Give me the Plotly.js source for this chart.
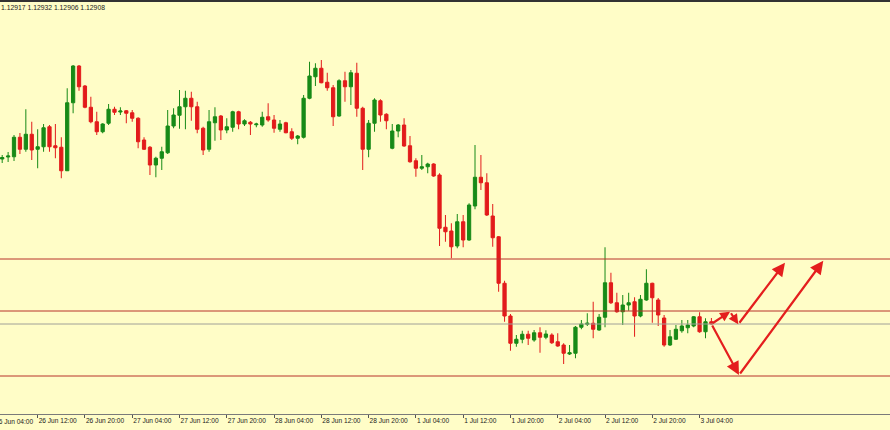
<!DOCTYPE html>
<html>
<head>
<meta charset="utf-8">
<script src="https://cdn.plot.ly/plotly-3.0.1.min.js"></script>
<style>
html,body{margin:0;padding:0;background:#fffdc7;}
#chart{width:890px;height:430px;}
</style>
</head>
<body>
<div id="chart"></div>
<script>
// EURUSD H1, bars from 26 Jun 06:00 to 3 Jul 06:00
const headerText = "1.12917 1.12932 1.12906 1.12908";

const open = [1.13568,1.13576,1.13577,1.13655,1.13607,1.13667,1.13607,1.13617,1.13697,1.13621,
1.13615,1.13521,1.13793,1.13940,1.13860,1.13775,1.13717,1.13677,1.13711,1.13767,
1.13756,1.13761,1.13753,1.13731,1.13644,1.13615,1.13544,1.13571,1.13593,1.13700,
1.13743,1.13777,1.13811,1.13777,1.13691,1.13607,1.13713,1.13740,1.13684,1.13695,
1.13757,1.13708,1.13715,1.13705,1.13704,1.13737,1.13724,1.13687,1.13713,1.13677,
1.13651,1.13655,1.13811,1.13897,1.13931,1.13875,1.13853,1.13740,1.13881,1.13857,
1.13911,1.13771,1.13607,1.13711,1.13801,1.13747,1.13611,1.13680,1.13704,1.13621,
1.13561,1.13531,1.13537,1.13548,1.13504,1.13295,1.13280,1.13220,1.13317,1.13244,
1.13380,1.13495,1.13473,1.13340,1.13257,1.13071,1.12940,1.12831,1.12847,1.12867,
1.12844,1.12873,1.12855,1.12864,1.12837,1.12824,1.12788,1.12791,1.12895,1.12907,
1.12911,1.12884,1.12935,1.13073,1.12993,1.12957,1.12984,1.12997,1.12940,1.13004,
1.13071,1.13004,1.12932,1.12824,1.12847,1.12881,1.12893,1.12900,1.12937,1.12877,
1.12917];

const high = [1.13584,1.13596,1.13664,1.13672,1.13767,1.13717,1.13687,1.13708,1.13704,1.13708,
1.13655,1.13851,1.13944,1.13944,1.13864,1.13817,1.13757,1.13711,1.13788,1.13777,
1.13775,1.13764,1.13764,1.13735,1.13655,1.13620,1.13577,1.13617,1.13764,1.13771,
1.13844,1.13841,1.13837,1.13797,1.13697,1.13764,1.13775,1.13744,1.13731,1.13761,
1.13761,1.13727,1.13720,1.13713,1.13757,1.13791,1.13744,1.13724,1.13717,1.13691,
1.13664,1.13824,1.13957,1.13951,1.13964,1.13913,1.13864,1.13887,1.13917,1.13924,
1.13953,1.13777,1.13724,1.13811,1.13807,1.13751,1.13708,1.13708,1.13731,1.13660,
1.13571,1.13584,1.13553,1.13551,1.13511,1.13344,1.13311,1.13348,1.13344,1.13391,
1.13624,1.13584,1.13511,1.13388,1.13260,1.13081,1.12948,1.12864,1.12881,1.12881,
1.12884,1.12895,1.12883,1.12871,1.12871,1.12831,1.12824,1.12900,1.12924,1.12951,
1.12997,1.12948,1.13215,1.13113,1.13033,1.13024,1.13033,1.13015,1.13024,1.13127,
1.13073,1.13012,1.12944,1.12884,1.12904,1.12924,1.12924,1.12940,1.12955,1.12931,
1.12932];

const low = [1.13552,1.13556,1.13560,1.13588,1.13597,1.13564,1.13531,1.13597,1.13597,1.13571,
1.13491,1.13520,1.13751,1.13841,1.13771,1.13711,1.13664,1.13671,1.13704,1.13744,
1.13744,1.13711,1.13717,1.13611,1.13604,1.13504,1.13495,1.13524,1.13588,1.13691,
1.13689,1.13687,1.13721,1.13671,1.13584,1.13597,1.13641,1.13644,1.13671,1.13677,
1.13687,1.13700,1.13664,1.13695,1.13697,1.13717,1.13673,1.13677,1.13671,1.13644,
1.13627,1.13650,1.13807,1.13860,1.13871,1.13841,1.13700,1.13737,1.13797,1.13784,
1.13737,1.13524,1.13575,1.13677,1.13717,1.13687,1.13607,1.13655,1.13617,1.13553,
1.13497,1.13524,1.13511,1.13497,1.13220,1.13237,1.13171,1.13211,1.13215,1.13241,
1.13367,1.13444,1.13340,1.13217,1.13037,1.12917,1.12801,1.12817,1.12831,1.12824,
1.12837,1.12793,1.12847,1.12828,1.12817,1.12748,1.12784,1.12771,1.12887,1.12900,
1.12851,1.12881,1.12895,1.12988,1.12953,1.12904,1.12961,1.12857,1.12935,1.13001,
1.12913,1.12900,1.12817,1.12820,1.12844,1.12873,1.12871,1.12895,1.12873,1.12851,
1.12906];

const close = [1.13574,1.13580,1.13655,1.13607,1.13667,1.13604,1.13617,1.13693,1.13617,1.13613,
1.13521,1.13793,1.13940,1.13857,1.13775,1.13717,1.13677,1.13708,1.13767,1.13755,
1.13760,1.13751,1.13731,1.13637,1.13607,1.13544,1.13571,1.13597,1.13700,1.13744,
1.13777,1.13811,1.13777,1.13687,1.13604,1.13717,1.13737,1.13684,1.13697,1.13757,
1.13708,1.13721,1.13708,1.13708,1.13735,1.13724,1.13691,1.13708,1.13673,1.13651,
1.13660,1.13811,1.13900,1.13931,1.13873,1.13853,1.13737,1.13881,1.13857,1.13913,
1.13771,1.13607,1.13711,1.13804,1.13744,1.13721,1.13680,1.13704,1.13620,1.13557,
1.13531,1.13537,1.13548,1.13500,1.13291,1.13277,1.13217,1.13317,1.13244,1.13384,
1.13495,1.13473,1.13344,1.13253,1.13071,1.12940,1.12831,1.12847,1.12867,1.12851,
1.12873,1.12855,1.12868,1.12833,1.12820,1.12791,1.12793,1.12895,1.12908,1.12911,
1.12887,1.12935,1.13073,1.12993,1.12957,1.12984,1.12993,1.12940,1.13007,1.13071,
1.13013,1.12944,1.12824,1.12857,1.12887,1.12900,1.12904,1.12937,1.12877,1.12917,
1.12908];

// time axis labels (bar index of each label)
const tickBars = [-2,6,14,22,30,38,46,54,62,70,78,86,94,102,110,118];
const tickLabels = ["26 Jun 04:00","26 Jun 12:00","26 Jun 20:00","27 Jun 04:00","27 Jun 12:00",
"27 Jun 20:00","28 Jun 04:00","28 Jun 12:00","28 Jun 20:00","1 Jul 04:00","1 Jul 12:00",
"1 Jul 20:00","2 Jul 04:00","2 Jul 12:00","2 Jul 20:00","3 Jul 04:00"];

// horizontal levels
const redLevels = [1.13168, 1.12960, 1.12700];
const bidLevel = 1.12908;

// projected paths (bar index, price)
const pathUpX = [120, 123.15, 124.55, 132.45];
const pathUpY = [1.12908, 1.12957, 1.12907, 1.13153];
const pathDownX = [120, 124.67, 138.93];
const pathDownY = [1.12908, 1.12704, 1.13161];

const bars = open.map((_, i) => i);
const GREEN = '#178a17', RED = '#e21b1b', LEVEL = '#b8332a', ARROW = '#e41e1e';
const FONT = 'Liberation Sans, Arial, sans-serif';

const trace = {
  type: 'candlestick',
  x: bars, open: open, high: high, low: low, close: close,
  increasing: {line: {color: GREEN, width: 1}, fillcolor: GREEN},
  decreasing: {line: {color: RED, width: 1}, fillcolor: RED},
  whiskerwidth: 0,
  hoverinfo: 'skip'
};

const shapes = [];
redLevels.forEach(v => shapes.push({type:'line', xref:'paper', x0:0, x1:1, yref:'y', y0:v, y1:v,
  line:{color:LEVEL, width:1}}));
shapes.push({type:'line', xref:'paper', x0:0, x1:1, yref:'y', y0:bidLevel, y1:bidLevel,
  line:{color:'#a0a098', width:1}});
shapes.push({type:'line', xref:'paper', x0:0, x1:1, yref:'paper', y0:1, y1:1,
  line:{color:'#333333', width:2}});

const annotations = [];
function addPath(xs, ys, sizes) {
  for (let k = 1; k < xs.length; k++) {
    annotations.push({xref:'x', yref:'y', axref:'x', ayref:'y',
      x: xs[k], y: ys[k], ax: xs[k-1], ay: ys[k-1], text:'', showarrow:true,
      arrowhead:2, arrowsize:sizes[k-1], arrowwidth:2.2, arrowcolor:ARROW, standoff:0});
  }
}
addPath(pathUpX, pathUpY, [0.9, 0.9, 1.2]);
addPath(pathDownX, pathDownY, [1.2, 1.2]);

annotations.push({xref:'paper', yref:'paper', x:0, y:1, xanchor:'left', yanchor:'top',
  xshift:-1, yshift:-1, text: headerText, showarrow:false,
  font:{family:FONT, size:6.8, color:'#1a1a1a'}});
annotations.push({xref:'paper', yref:'paper', x:0, y:0, xanchor:'left', yanchor:'top',
  xshift:-7, yshift:-2, text: tickLabels[0], showarrow:false,
  font:{family:FONT, size:6.6, color:'#1a1a1a'}});

const layout = {
  width: 890, height: 430,
  margin: {l:0, r:0, t:1, b:16, pad:0},
  paper_bgcolor: '#fffdc7', plot_bgcolor: '#fffdc7',
  showlegend: false,
  boxgap: 0.45, boxgroupgap: 0,
  xaxis: {
    range: [-0.372, 150.22], type: 'linear',
    rangeslider: {visible: false},
    showgrid: false, zeroline: false,
    showline: true, linecolor: '#7a7a7a', linewidth: 1,
    tickmode: 'array', tickvals: tickBars, ticktext: tickLabels,
    tickangle: 0,
    ticks: 'outside', ticklen: 3, tickwidth: 1, tickcolor: '#555',
    ticklabelposition: 'outside right',
    tickfont: {family: FONT, size: 6.6, color: '#1a1a1a'},
    fixedrange: true
  },
  yaxis: {
    range: [1.12548, 1.14200],
    showgrid: false, zeroline: false, showticklabels: false, ticks: '',
    showline: false, fixedrange: true
  },
  shapes: shapes,
  annotations: annotations
};

Plotly.newPlot('chart', [trace], layout, {displayModeBar: false, staticPlot: true});
</script>
</body>
</html>
